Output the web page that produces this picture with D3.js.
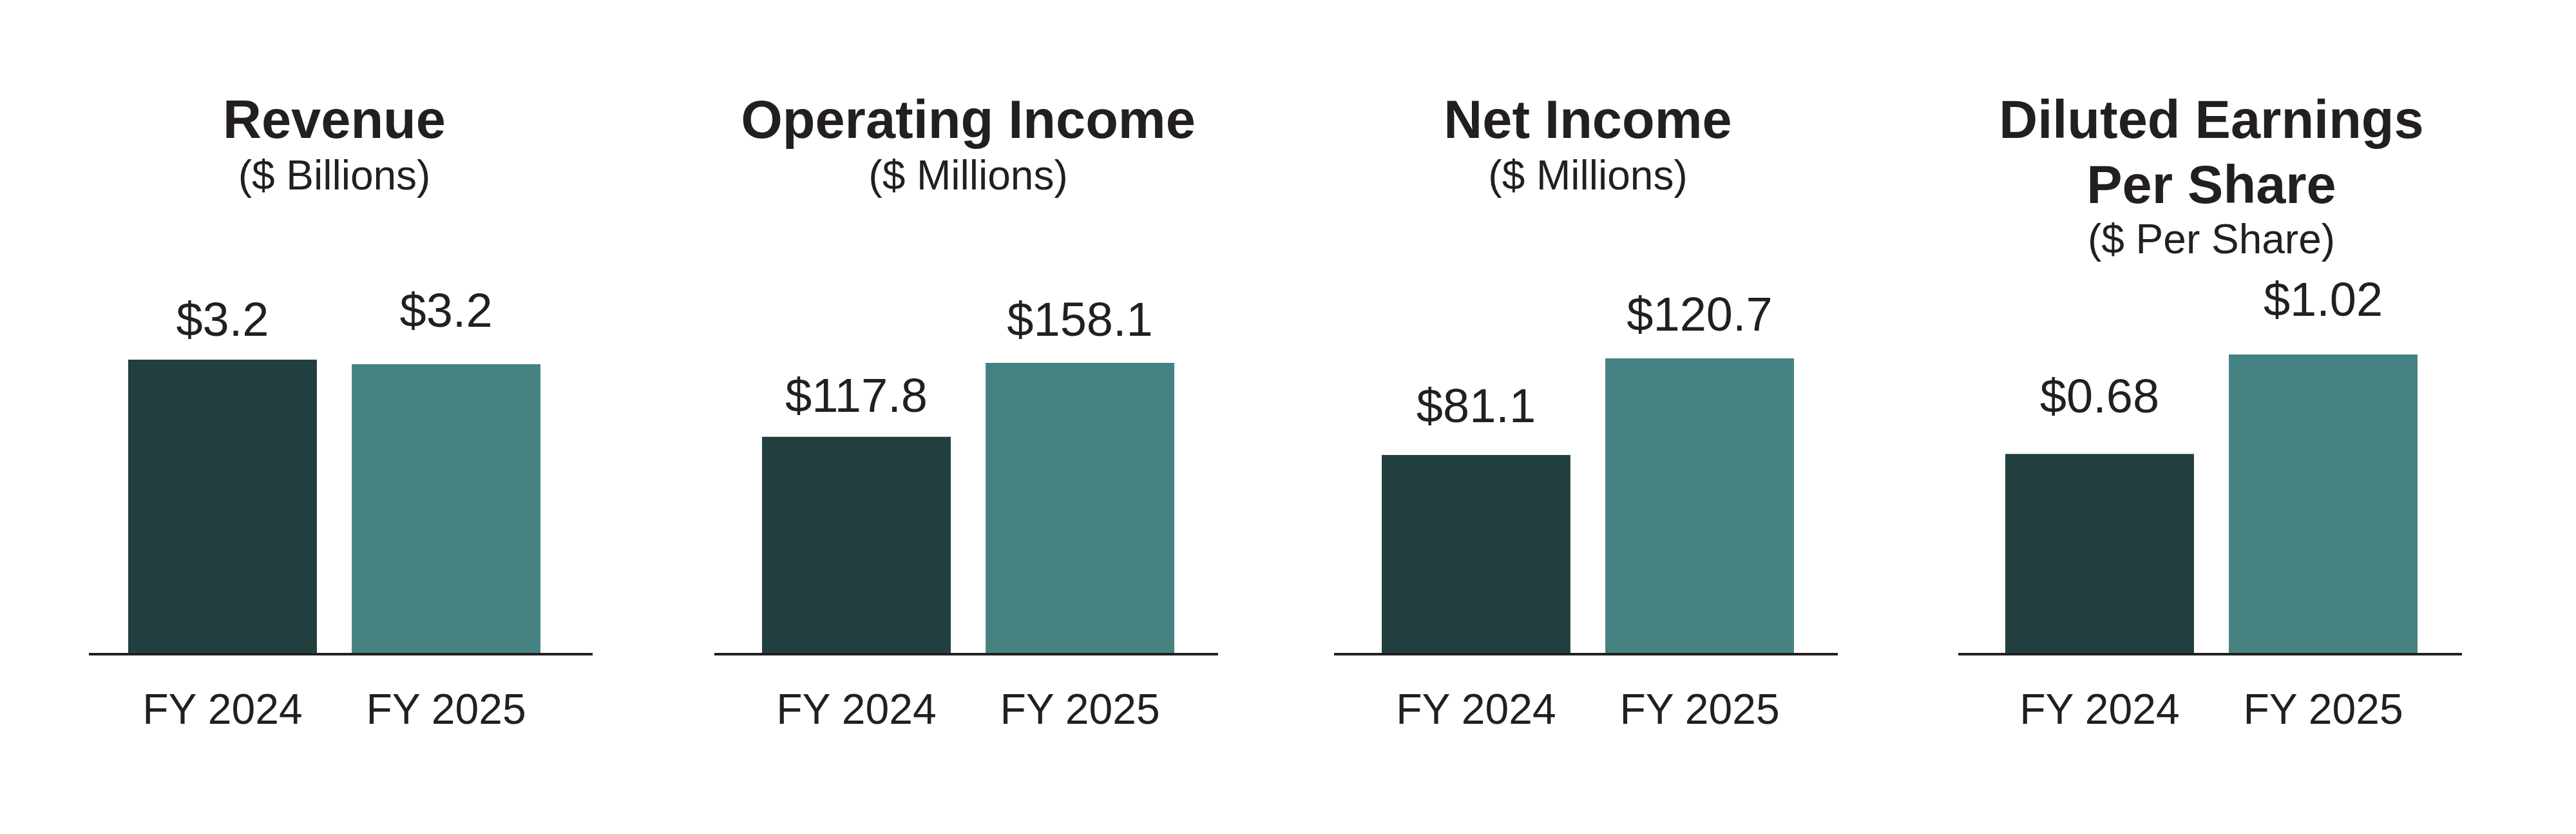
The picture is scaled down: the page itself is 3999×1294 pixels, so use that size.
<!DOCTYPE html>
<html>
<head>
<meta charset="utf-8">
<script src="https://cdn.jsdelivr.net/npm/d3@7"></script>
<style>
  html, body { margin: 0; padding: 0; background: #ffffff; }
  svg { display: block; }
  text { font-family: "Liberation Sans", Arial, Helvetica, sans-serif; fill: #231f20; }
</style>
</head>
<body>
<svg id="chart" width="3999" height="1294"></svg>
<script>
// ---- data ----
const categories = ["FY 2024", "FY 2025"];
const panelTitles = [["Revenue"], ["Operating Income"], ["Net Income"], ["Diluted Earnings", "Per Share"]];
const panelUnits = ["($ Billions)", "($ Millions)", "($ Millions)", "($ Per Share)"];
const revenue = [3.21, 3.16];
const operatingIncome = [117.8, 158.1];
const netIncome = [81.1, 120.7];
const dilutedEPS = [0.68, 1.02];
const revenueLabels = ["$3.2", "$3.2"];
const operatingIncomeLabels = ["$117.8", "$158.1"];
const netIncomeLabels = ["$81.1", "$120.7"];
const dilutedEPSLabels = ["$0.68", "$1.02"];

const seriesValues = [revenue, operatingIncome, netIncome, dilutedEPS];
const seriesLabels = [revenueLabels, operatingIncomeLabels, netIncomeLabels, dilutedEPSLabels];

// ---- layout ----
const colors = ["#223f3f", "#468282"];
const axisStart = [138, 1109, 2071, 3040];
const axisLen = 782;
const barStart = [199, 1183, 2145, 3113];
const barSpan = 640;
const maxBarH = [455, 450, 457, 463];
const baseY = 1013;
const labelGap = [[37, 58], [39, 42], [51, 43], [64, 60]];

const svg = d3.select("#chart");

seriesValues.forEach((vals, i) => {
  const g = svg.append("g");
  const x = d3.scaleBand().domain(categories)
    .range([barStart[i], barStart[i] + barSpan])
    .paddingInner(0.156).paddingOuter(0);
  const y = d3.scaleLinear().domain([0, d3.max(vals)])
    .range([baseY, baseY - maxBarH[i]]);
  const cx = barStart[i] + barSpan / 2;

  // title
  const titleLines = panelTitles[i];
  titleLines.forEach((t, k) => {
    g.append("text")
      .attr("x", cx).attr("y", 214 + k * 101)
      .attr("text-anchor", "middle")
      .attr("font-size", 83).attr("font-weight", "bold")
      .text(t);
  });
  g.append("text")
    .attr("x", cx).attr("y", titleLines.length > 1 ? 393 : 294)
    .attr("text-anchor", "middle")
    .attr("font-size", 64)
    .text(panelUnits[i]);

  // bars
  g.selectAll("rect.bar").data(vals).join("rect")
    .attr("class", "bar")
    .attr("x", (d, j) => x(categories[j]))
    .attr("width", x.bandwidth())
    .attr("y", d => y(d))
    .attr("height", d => y(0) - y(d))
    .attr("fill", (d, j) => colors[j]);

  // value labels
  g.selectAll("text.val").data(vals).join("text")
    .attr("class", "val")
    .attr("x", (d, j) => x(categories[j]) + x.bandwidth() / 2)
    .attr("y", (d, j) => y(d) - labelGap[i][j])
    .attr("text-anchor", "middle")
    .attr("font-size", 74)
    .text((d, j) => seriesLabels[i][j]);

  // baseline
  g.append("line")
    .attr("x1", axisStart[i]).attr("x2", axisStart[i] + axisLen)
    .attr("y1", baseY + 2).attr("y2", baseY + 2)
    .attr("stroke", "#231f20").attr("stroke-width", 4);

  // axis tick labels
  const ax = g.append("g").attr("transform", `translate(0,${baseY})`)
    .call(d3.axisBottom(x).tickSize(0).tickPadding(0));
  ax.select(".domain").remove();
  ax.selectAll(".tick text")
    .attr("y", 110).attr("dy", null)
    .attr("font-size", 66)
    .attr("font-family", "'Liberation Sans', Arial, Helvetica, sans-serif")
    .attr("fill", "#231f20");
});
</script>
</body>
</html>
